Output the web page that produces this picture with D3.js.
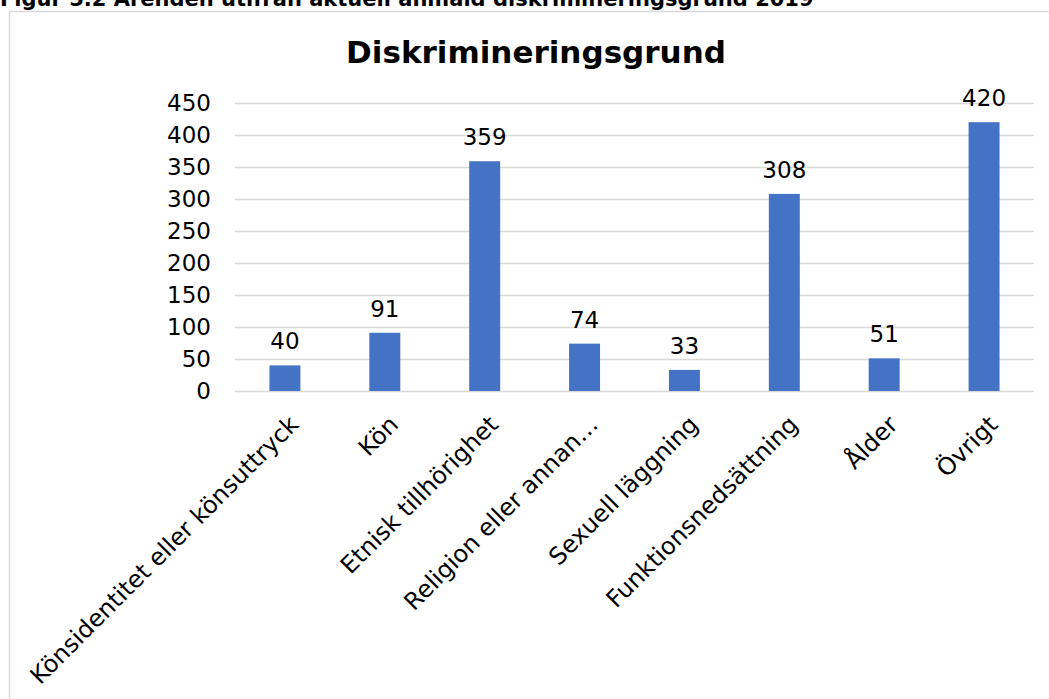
<!DOCTYPE html>
<html>
<head>
<meta charset="utf-8">
<script src="https://cdn.jsdelivr.net/npm/d3@7"></script>
<style>
  body { margin: 0; background: #fff; }
  svg { display: block; font-family: "DejaVu Sans", Verdana, sans-serif; }
</style>
</head>
<body>
<div id="chart"></div>
<script>
// data
const categories = [
  "Könsidentitet eller könsuttryck",
  "Kön",
  "Etnisk tillhörighet",
  "Religion eller annan…",
  "Sexuell läggning",
  "Funktionsnedsättning",
  "Ålder",
  "Övrigt"
];
const values = [40, 91, 359, 74, 33, 308, 51, 420];
const yTicks = [0, 50, 100, 150, 200, 250, 300, 350, 400, 450];

const width = 1049, height = 699;
const plot = { left: 235, right: 1034, top: 103, bottom: 391 };

const svg = d3.select("#chart")
  .append("svg")
  .attr("width", width)
  .attr("height", height);

// figure caption, clipped at the top of the page
svg.append("text")
  .attr("x", 0)
  .attr("y", 6)
  .attr("font-weight", "bold")
  .attr("font-size", 21)
  .text("Figur 5.2 Ärenden utifrån aktuell anmäld diskrimineringsgrund 2019");

// chart frame
svg.append("rect")
  .attr("x", 9.5)
  .attr("y", 11.5)
  .attr("width", 1100)
  .attr("height", 800)
  .attr("fill", "#fff")
  .attr("stroke", "#d9d9d9")
  .attr("stroke-width", 1.5);

svg.append("text")
  .attr("x", 536)
  .attr("y", 63)
  .attr("text-anchor", "middle")
  .attr("font-weight", "bold")
  .attr("font-size", 31)
  .text("Diskrimineringsgrund");

const x = d3.scaleBand()
  .domain(categories)
  .range([plot.left, plot.right])
  .paddingInner(0.69)
  .paddingOuter(0.345);

const y = d3.scaleLinear()
  .domain([0, 450])
  .range([plot.bottom, plot.top]);

// gridlines + y labels
const yAxis = svg.append("g")
  .attr("transform", `translate(${plot.left},0)`)
  .call(d3.axisLeft(y).tickValues(yTicks).tickSize(-(plot.right - plot.left)).tickPadding(24));
yAxis.select(".domain").remove();
yAxis.selectAll(".tick line").attr("stroke", "#d9d9d9").attr("stroke-width", 1.5);
yAxis.selectAll(".tick text")
  .attr("font-size", 23)
  .attr("fill", "#000")
  .attr("font-family", "DejaVu Sans, Verdana, sans-serif");

// bars
svg.selectAll(".bar")
  .data(values)
  .join("rect")
  .attr("class", "bar")
  .attr("x", (d, i) => x(categories[i]))
  .attr("width", x.bandwidth())
  .attr("y", d => y(d))
  .attr("height", d => y(0) - y(d))
  .attr("fill", "#4472c4");

// value labels
svg.selectAll(".val")
  .data(values)
  .join("text")
  .attr("class", "val")
  .attr("x", (d, i) => x(categories[i]) + x.bandwidth() / 2)
  .attr("y", d => y(d) - 16)
  .attr("text-anchor", "middle")
  .attr("font-size", 23)
  .text(d => d);

// rotated category labels
svg.selectAll(".cat")
  .data(categories)
  .join("text")
  .attr("class", "cat")
  .attr("text-anchor", "end")
  .attr("font-size", 24)
  .attr("transform", d => `translate(${x(d) + x.bandwidth() / 2 + 15},${plot.bottom + 35}) rotate(-45)`)
  .text(d => d);
</script>
</body>
</html>
